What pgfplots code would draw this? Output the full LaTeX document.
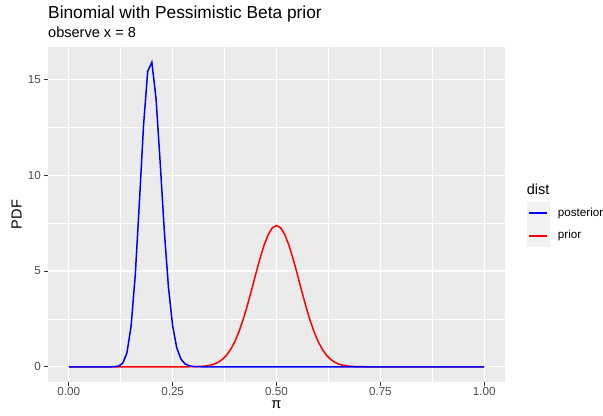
\documentclass[border=0pt]{standalone}
\usepackage{fontspec}
\setmainfont{Liberation Sans}
\usepackage{pgfplots}
\pgfplotsset{compat=1.18}
\definecolor{panel}{HTML}{EBEBEB}
\definecolor{grey30}{HTML}{4D4D4D}
\definecolor{grey20}{HTML}{333333}
\definecolor{keybg}{HTML}{F2F2F2}
\definecolor{cblue}{RGB}{0,0,255}
\definecolor{cred}{RGB}{255,0,0}
\begin{document}
\begin{tikzpicture}[x=1bp,y=1bp]
\path[use as bounding box] (-48,-33) rectangle (555,382);
\begin{axis}[
  at={(0,0)}, anchor=south west,
  width=457bp, height=335bp, scale only axis,
  xmin=-0.05, xmax=1.05, ymin=-0.795, ymax=16.695,
  axis background/.style={fill=panel},
  axis line style={draw=none},
  grid=both,
  major grid style={white, line width=1.4bp},
  minor grid style={white, line width=0.7bp},
  xtick={0,0.25,0.5,0.75,1},
  xticklabels={0.00,0.25,0.50,0.75,1.00},
  minor xtick={0.125,0.375,0.625,0.875},
  ytick={0,5,10,15},
  minor ytick={2.5,7.5,12.5},
  tick pos=left, tick align=outside,
  major tick length=3.7bp, minor tick length=0bp,
  tick style={grey20, line width=0.9bp},
  /pgf/number format/assume math mode=true,
  tick label style={font=\fontsize{11.7}{13}\selectfont, text=grey30},
  xticklabel style={yshift=1.5bp},
  clip=false,
]
\addplot[cred, line width=1.5bp] coordinates {
(0.00,0) (0.10,0) (0.20,0) (0.28,0) (0.29,0.002) (0.30,0.005) (0.31,0.011) (0.32,0.022)
(0.33,0.042) (0.34,0.079) (0.35,0.140) (0.36,0.239) (0.37,0.390) (0.38,0.611)
(0.39,0.918) (0.40,1.328) (0.41,1.850) (0.42,2.482) (0.43,3.212) (0.44,4.012)
(0.45,4.837) (0.46,5.633) (0.47,6.340) (0.48,6.897) (0.49,7.254) (0.50,7.377)
(0.51,7.254) (0.52,6.897) (0.53,6.340) (0.54,5.633) (0.55,4.837) (0.56,4.012)
(0.57,3.212) (0.58,2.482) (0.59,1.850) (0.60,1.328) (0.61,0.918) (0.62,0.611)
(0.63,0.390) (0.64,0.239) (0.65,0.140) (0.66,0.079) (0.67,0.042) (0.68,0.022)
(0.69,0.011) (0.70,0.005) (0.71,0.002) (0.72,0) (0.80,0) (0.90,0) (1.00,0)
};
\addplot[cblue, line width=1.5bp] coordinates {
(0.00,0) (0.05,0) (0.09,0) (0.10,0.0004) (0.11,0.005) (0.12,0.036) (0.13,0.190)
(0.14,0.729) (0.15,2.12) (0.16,4.77) (0.17,8.59) (0.18,12.62) (0.19,15.43)
(0.20,15.90) (0.21,14.01) (0.22,10.66) (0.23,7.08) (0.24,4.13) (0.25,2.14)
(0.26,0.98) (0.27,0.40) (0.28,0.150) (0.29,0.049) (0.30,0.015) (0.31,0.004)
(0.32,0.001) (0.33,0) (0.40,0) (0.50,0) (0.60,0) (0.70,0) (0.80,0) (0.90,0) (1.00,0)
};
\end{axis}
% axis titles
\node[anchor=base, inner sep=0pt, font=\fontsize{14.6}{16}\selectfont] at (228.5,-26.5) {π};
\node[anchor=base, rotate=90, inner sep=0pt, font=\fontsize{14.6}{16}\selectfont] at (-26.3,167.5) {PDF};
% titles
\node[anchor=base west, inner sep=0pt, font=\fontsize{17.4}{20}\selectfont] at (0,363.7) {Binomial with Pessimistic Beta prior};
\node[anchor=base west, inner sep=0pt, font=\fontsize{14.6}{16}\selectfont] at (0,344.7) {observe x = 8};
% legend
\node[anchor=base west, inner sep=0pt, font=\fontsize{14.6}{16}\selectfont] at (478.7,188) {dist};
\fill[keybg] (478.7,134.7) rectangle (502,180.3);
\draw[draw=cblue, line width=1.5bp] (481.3,168.9) -- (499.3,168.9);
\draw[draw=cred, line width=1.5bp] (481.3,146.1) -- (499.3,146.1);
\node[anchor=west, inner sep=0pt, font=\fontsize{11.7}{13}\selectfont] at (509.7,168.9) {posterior};
\node[anchor=west, inner sep=0pt, font=\fontsize{11.7}{13}\selectfont] at (509.7,146.1) {prior};
\end{tikzpicture}
\end{document}
